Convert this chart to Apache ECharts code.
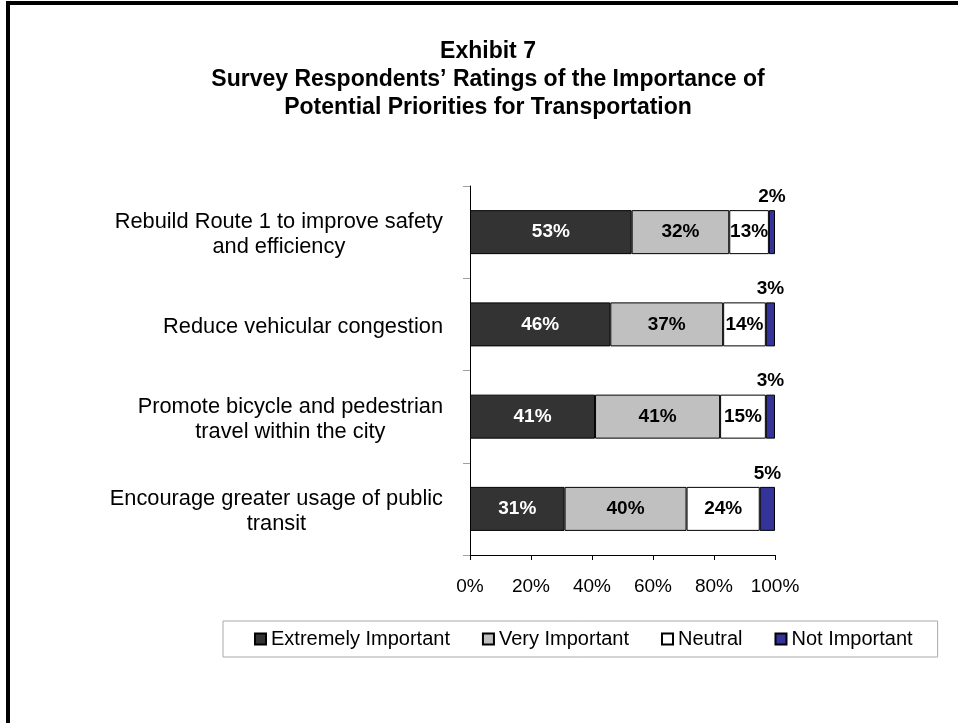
<!DOCTYPE html>
<html>
<head>
<meta charset="utf-8">
<script src="https://cdn.jsdelivr.net/npm/echarts@6/dist/echarts.min.js"></script>
<style>
  body { margin: 0; background: #fff; }
  #chart { position: absolute; left: 0; top: 0; width: 958px; height: 723px; }
  #frame { position: absolute; left: 6px; top: 1px; right: 0; bottom: 0; border-top: 4px solid #000; border-left: 4px solid #000; pointer-events: none; }
</style>
</head>
<body>
<div id="chart"></div>
<div id="frame"></div>
<script>
const categories = [
    'Rebuild Route 1 to improve safety\nand efficiency',
    'Reduce vehicular congestion',
    'Promote bicycle and pedestrian\ntravel within the city',
    'Encourage greater usage of public\ntransit'
];
const seriesNames = ['Extremely Important', 'Very Important', 'Neutral', 'Not Important'];
const extremely = [53, 46, 41, 31];
const very = [32, 37, 41, 40];
const neutral = [13, 14, 15, 24];
const notImportant = [2, 3, 3, 5];
const xTicks = [0, 20, 40, 60, 80, 100];

const colors = ['#333333', '#c0c0c0', '#ffffff', '#333399'];
const labelColors = ['#ffffff', '#000000', '#000000', '#000000'];
const font = 'Liberation Sans, Arial, sans-serif';

const chart = echarts.init(document.getElementById('chart'));

const seriesData = [extremely, very, neutral, notImportant];
const series = seriesData.map((data, i) => {
    return {
        name: seriesNames[i],
        type: 'bar',
        stack: 'total',
        barWidth: 44,
        data: data,
        itemStyle: { color: colors[i], borderColor: '#000', borderWidth: 1 },
        label: {
            show: true,
            position: i === 3 ? 'top' : 'inside',
            distance: 4,
            formatter: '{c}%',
            color: labelColors[i],
            fontFamily: font,
            fontWeight: 'bold',
            fontSize: 19
        }
    };
});

const option = {
    animation: false,
    title: {
        text: 'Exhibit 7\nSurvey Respondents\u2019 Ratings of the Importance of\nPotential Priorities for Transportation',
        left: 488,
        top: 38,
        textAlign: 'center',
        padding: 0,
        textStyle: {
            fontFamily: font,
            fontWeight: 'bold',
            fontSize: 23,
            lineHeight: 28,
            color: '#000'
        }
    },
    legend: {
        data: seriesNames,
        left: 223,
        top: 621,
        orient: 'horizontal',
        itemWidth: 11,
        itemHeight: 11,
        itemGap: 32,
        icon: 'rect',
        padding: [8, 25, 8, 31],
        borderColor: '#a8a8a8',
        borderWidth: 1,
        textStyle: { fontFamily: font, fontSize: 20, color: '#000' }
    },
    grid: { left: 470, right: 183, top: 186, bottom: 168, containLabel: false },
    xAxis: {
        type: 'value',
        min: 0,
        max: 100,
        interval: 20,
        axisLine: { show: true, lineStyle: { color: '#000', width: 1 } },
        axisTick: { show: true, length: 5, lineStyle: { color: '#000' } },
        splitLine: { show: false },
        axisLabel: {
            margin: 22,
            formatter: v => (xTicks.indexOf(v) >= 0 ? v + '%' : ''),
            fontFamily: font,
            fontSize: 19,
            color: '#000'
        }
    },
    yAxis: {
        type: 'category',
        inverse: true,
        data: categories,
        axisLine: { show: true, lineStyle: { color: '#000', width: 1 } },
        axisTick: { show: true, length: 7, lineStyle: { color: '#a0a0a0' } },
        axisLabel: {
            margin: 27,
            padding: [5, 0, 0, 0],
            formatter: v => v.split('\n').map(s => '{c|' + s + '}').join('\n'),
            rich: {
                c: { align: 'center', fontFamily: font, fontSize: 21.8, lineHeight: 25, color: '#000' }
            }
        }
    },
    series: series
};

chart.setOption(option);
</script>
</body>
</html>
